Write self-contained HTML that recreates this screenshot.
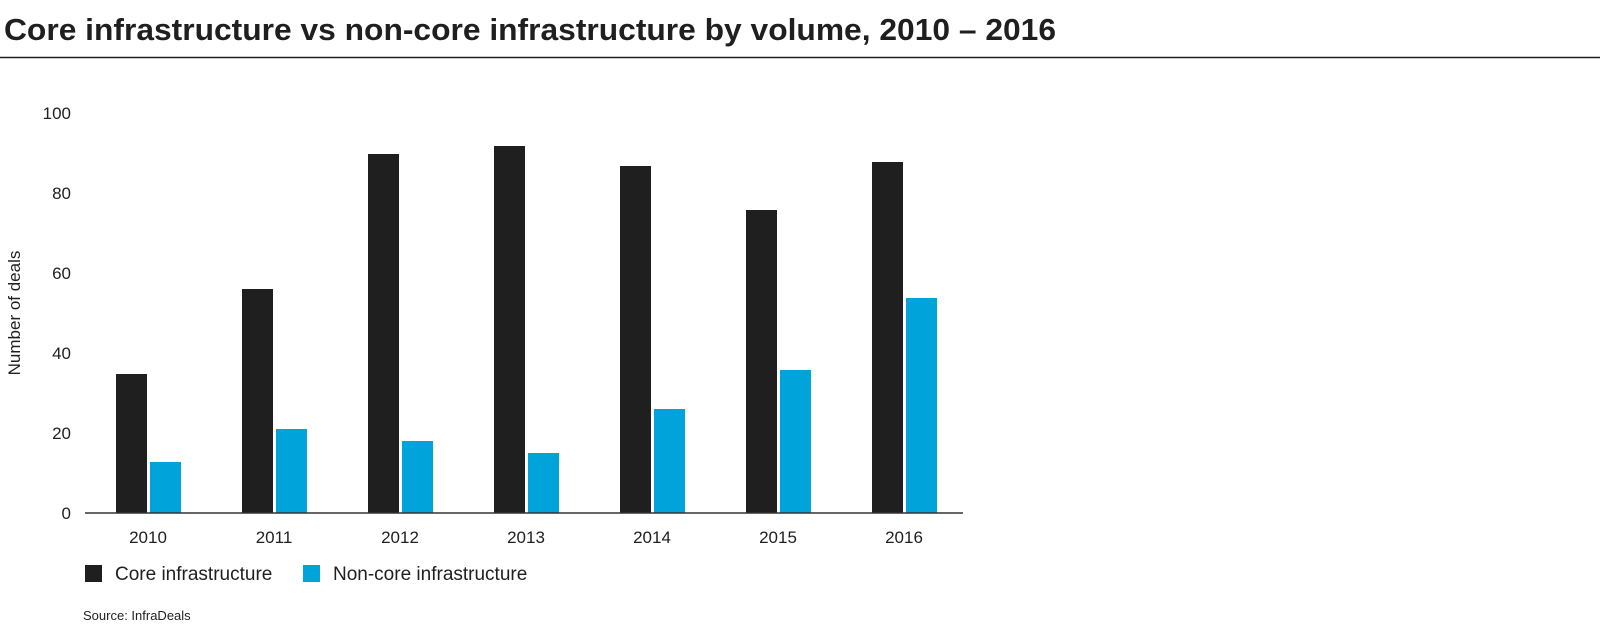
<!DOCTYPE html>
<html><head><style>
body{margin:0;background:#fff;width:1600px;height:625px;overflow:hidden;font-family:"Liberation Sans",sans-serif;}
</style></head><body>
<svg width="1600" height="625" xmlns="http://www.w3.org/2000/svg" font-family="Liberation Sans, sans-serif">
<text x="4" y="40" font-size="31" font-weight="bold" fill="#1f1f1f" textLength="1052" lengthAdjust="spacingAndGlyphs">Core infrastructure vs non-core infrastructure by volume, 2010 – 2016</text>
<line x1="0" y1="57.5" x2="1600" y2="57.5" stroke="#1f1f1f" stroke-width="1.5"/>
<g font-size="17" fill="#1f1f1f" text-anchor="end">
<text x="71" y="119">100</text><text x="71" y="199">80</text><text x="71" y="279">60</text>
<text x="71" y="359">40</text><text x="71" y="439">20</text><text x="71" y="519">0</text>
</g>
<text transform="translate(20,313) rotate(-90)" font-size="17" fill="#1f1f1f" text-anchor="middle">Number of deals</text>
<g fill="#1f1f1f">
<rect x="116" y="374" width="31" height="139"/>
<rect x="242" y="289" width="31" height="224"/>
<rect x="368" y="154" width="31" height="359"/>
<rect x="494" y="146" width="31" height="367"/>
<rect x="620" y="166" width="31" height="347"/>
<rect x="746" y="210" width="31" height="303"/>
<rect x="872" y="162" width="31" height="351"/>
</g>
<g fill="#00a3da">
<rect x="150" y="462" width="31" height="51"/>
<rect x="276" y="429" width="31" height="84"/>
<rect x="402" y="441" width="31" height="72"/>
<rect x="528" y="453" width="31" height="60"/>
<rect x="654" y="409" width="31" height="104"/>
<rect x="780" y="370" width="31" height="143"/>
<rect x="906" y="298" width="31" height="215"/>
</g>
<line x1="85" y1="513" x2="963" y2="513" stroke="#333" stroke-width="1.5"/>
<g font-size="17" fill="#1f1f1f" text-anchor="middle">
<text x="148" y="543">2010</text><text x="274" y="543">2011</text><text x="400" y="543">2012</text>
<text x="526" y="543">2013</text><text x="652" y="543">2014</text><text x="778" y="543">2015</text>
<text x="904" y="543">2016</text>
</g>
<rect x="85" y="565" width="17" height="17" fill="#1f1f1f"/>
<text x="115" y="580" font-size="19" fill="#1f1f1f">Core infrastructure</text>
<rect x="303" y="565" width="17" height="17" fill="#00a3da"/>
<text x="333" y="580" font-size="19" fill="#1f1f1f">Non-core infrastructure</text>
<text x="83" y="620" font-size="13" fill="#1f1f1f">Source: InfraDeals</text>
</svg>
</body></html>
